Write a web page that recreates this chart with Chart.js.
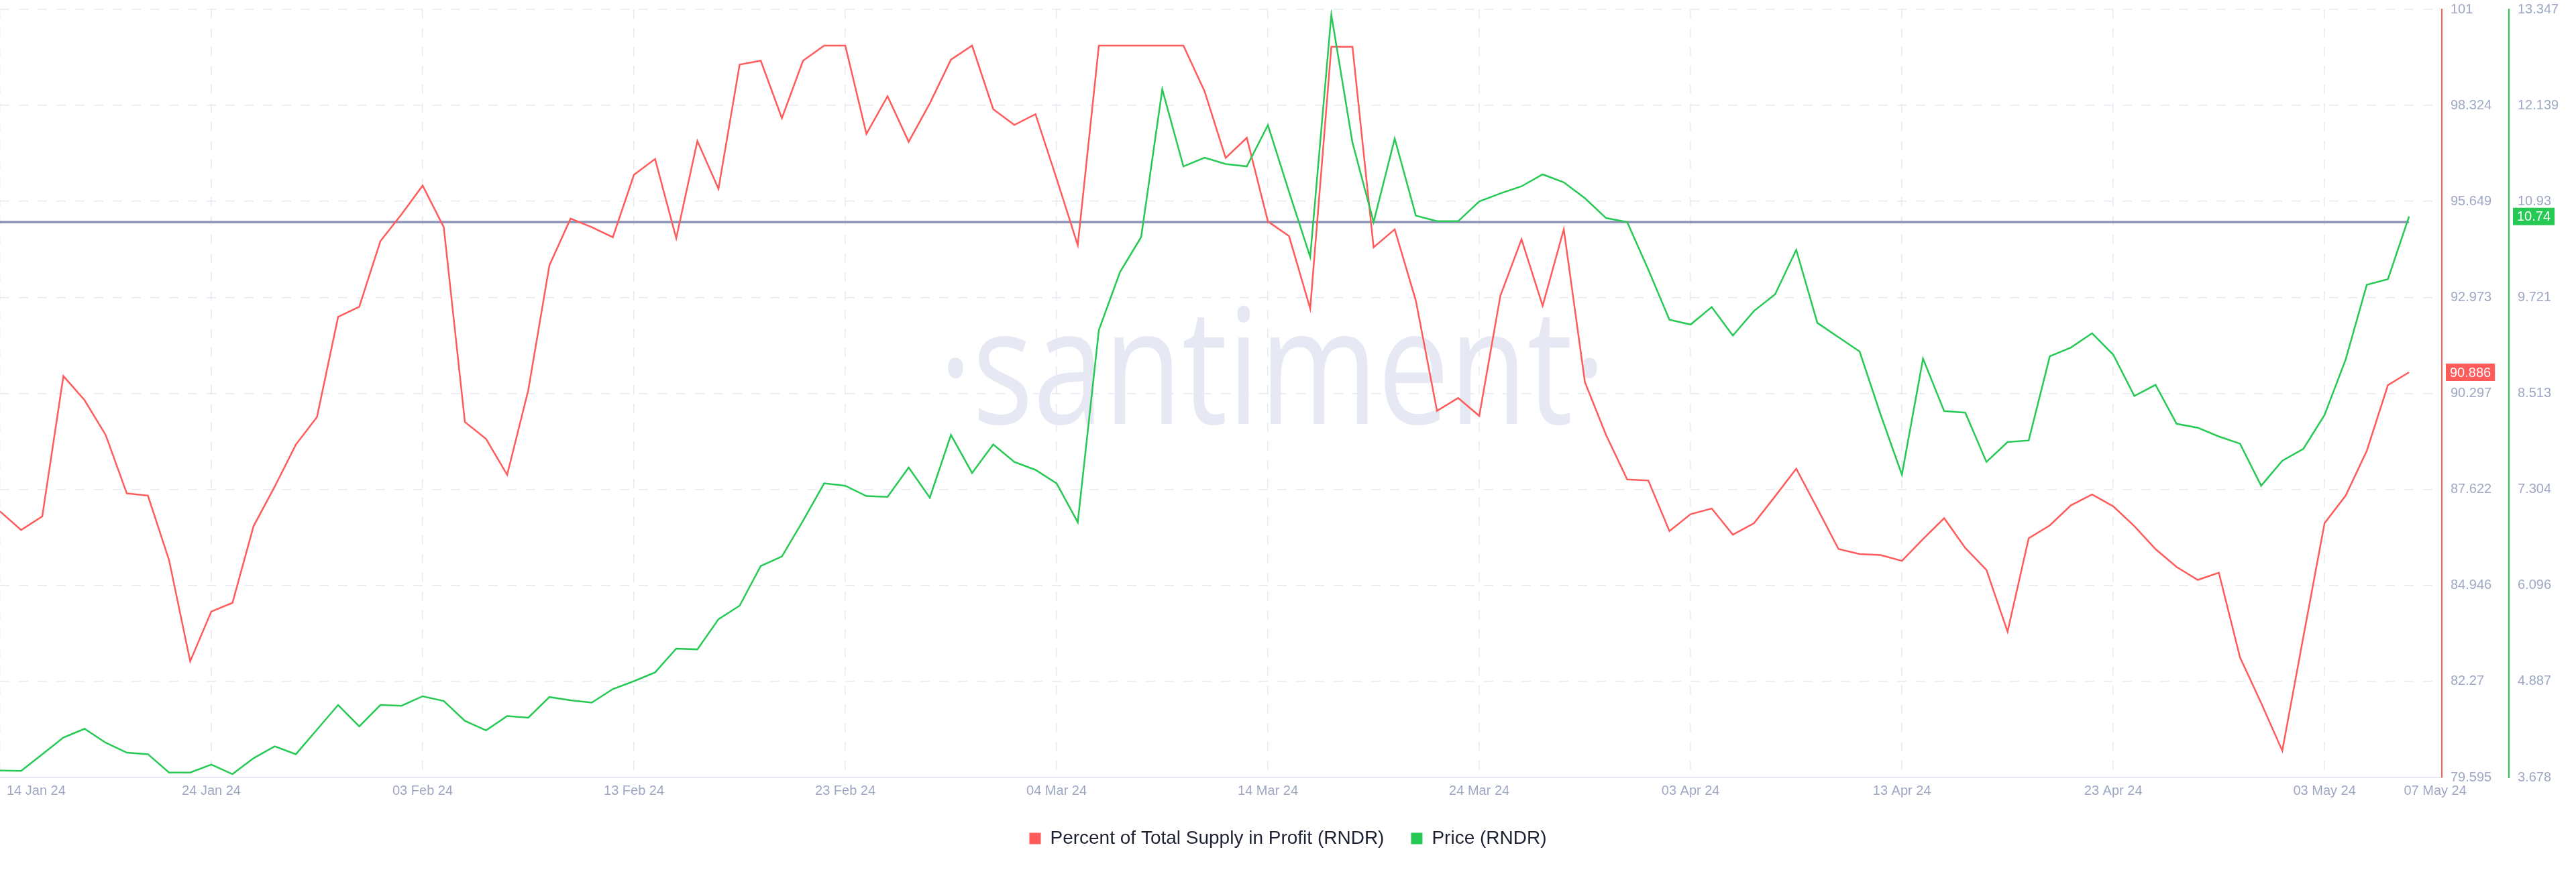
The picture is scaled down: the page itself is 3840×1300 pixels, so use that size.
<!DOCTYPE html>
<html>
<head>
<meta charset="utf-8">
<script src="https://cdn.jsdelivr.net/npm/chart.js@4.4.1/dist/chart.umd.min.js"></script>
<style>
    html, body { margin: 0; padding: 0; background: #ffffff; }
    #wrap { width: 3840px; height: 1300px; position: relative; }
</style>
</head>
<body>
<div id="wrap"><canvas id="chart"></canvas></div>
<script>
// x axis: day index from 14 Jan 24
const gridDays = [0, 10, 20, 30, 40, 50, 60, 70, 80, 90, 100, 110];
const xTickDays = [0, 10, 20, 30, 40, 50, 60, 70, 80, 90, 100, 110, 114];
const xTickLabels = ['14 Jan 24', '24 Jan 24', '03 Feb 24', '13 Feb 24', '23 Feb 24', '04 Mar 24',
    '14 Mar 24', '24 Mar 24', '03 Apr 24', '13 Apr 24', '23 Apr 24', '03 May 24', '07 May 24'];

const redTickLabels = ['79.595', '82.27', '84.946', '87.622', '90.297', '92.973', '95.649', '98.324', '101'];
const greenTickLabels = ['3.678', '4.887', '6.096', '7.304', '8.513', '9.721', '10.93', '12.139', '13.347'];

const supplyInProfit = [
    87.01, 86.49, 86.87, 90.78, 90.11, 89.14, 87.51, 87.45, 85.65, 82.83,
    84.22, 84.46, 86.60, 87.70, 88.87, 89.64, 92.43, 92.71, 94.54, 95.29,
    96.09, 94.93, 89.50, 89.03, 88.03, 90.39, 93.87, 95.17, 94.93, 94.65,
    96.39, 96.83, 94.62, 97.33, 96.00, 99.46, 99.57, 97.97, 99.57, 99.99,
    99.99, 97.53, 98.58, 97.31, 98.38, 99.60, 99.99, 98.22, 97.78, 98.08,
    96.28, 94.43, 99.99, 99.99, 99.99, 99.99, 99.99, 98.72, 96.86, 97.42,
    95.09, 94.68, 92.66, 99.96, 99.96, 94.37, 94.87, 92.88, 89.81, 90.17,
    89.67, 93.02, 94.59, 92.74, 94.87, 90.61, 89.14, 87.90, 87.87, 86.46,
    86.93, 87.09, 86.36, 86.68, 87.43, 88.20, 87.09, 85.96, 85.82, 85.79,
    85.63, 86.24, 86.82, 85.99, 85.38, 83.66, 86.26, 86.62, 87.18, 87.48,
    87.15, 86.60, 85.96, 85.46, 85.10, 85.30, 82.94, 81.67, 80.34, 83.52,
    86.68, 87.45, 88.70, 90.53, 90.886
];

const price = [
    3.765, 3.76, 3.97, 4.18, 4.29, 4.115, 3.99, 3.97, 3.74, 3.74,
    3.84, 3.72, 3.92, 4.07, 3.97, 4.28, 4.59, 4.32, 4.59, 4.58,
    4.70, 4.64, 4.39, 4.27, 4.45, 4.43, 4.69, 4.65, 4.62, 4.79,
    4.89, 5.00, 5.30, 5.29, 5.67, 5.84, 6.34, 6.46, 6.91, 7.38,
    7.35, 7.22, 7.21, 7.58, 7.20, 7.99, 7.51, 7.87, 7.65, 7.55,
    7.38, 6.89, 9.31, 10.04, 10.48, 12.34, 11.37, 11.48, 11.40, 11.37,
    11.89, 11.05, 10.23, 13.28, 11.67, 10.67, 11.72, 10.75, 10.68, 10.68,
    10.93, 11.03, 11.12, 11.27, 11.17, 10.97, 10.72, 10.67, 10.07, 9.44,
    9.38, 9.60, 9.24, 9.55, 9.76, 10.32, 9.40, 9.22, 9.04, 8.24,
    7.49, 8.95, 8.29, 8.27, 7.65, 7.90, 7.92, 8.98, 9.09, 9.27,
    9.00, 8.48, 8.62, 8.13, 8.08, 7.97, 7.88, 7.35, 7.665, 7.816,
    8.24, 8.94, 9.88, 9.95, 10.74
];

const priceRef = 10.67;

const RED = '#ff5b5b';
const GREEN = '#26c953';
const GRID = '#e6e9f2';
const TICK = '#9ea8c5';
const FONT = '"Liberation Sans", Arial, sans-serif';

Chart.defaults.font.family = FONT;

// santiment watermark, drawn before the grid
const watermark = {
    id: 'watermark',
    beforeDraw(chart) {
        const ctx = chart.ctx;
        const txt = '\u00B7santiment\u00B7';
        ctx.save();
        ctx.font = '400 240px "Open Sans", sans-serif';
        const w = ctx.measureText(txt).width;
        ctx.translate(1897, 632);
        ctx.scale(995 / w, 1);
        ctx.textAlign = 'center';
        ctx.textBaseline = 'alphabetic';
        ctx.fillStyle = '#e6e9f3';
        ctx.fillText(txt, 0, 0);
        ctx.restore();
    }
};

// date labels under the x axis
const xLabels = {
    id: 'xLabels',
    afterDraw(chart) {
        const {ctx, chartArea} = chart;
        const x = chart.scales.x;
        ctx.save();
        ctx.font = '20px ' + FONT;
        ctx.fillStyle = TICK;
        ctx.textBaseline = 'middle';
        xTickDays.forEach((d, i) => {
            let px = x.getPixelForValue(d);
            ctx.textAlign = 'center';
            if (i === 0) {
                ctx.textAlign = 'left';
                px += 10;
            } else if (i === xTickDays.length - 1) {
                px += 39;
            }
            ctx.fillText(xTickLabels[i], px, chartArea.bottom + 20);
        });
        ctx.restore();
    }
};

// last value badges on the axes
const badges = {
    id: 'badges',
    afterDraw(chart) {
        const ctx = chart.ctx;
        const items = [
            { scale: chart.scales.y, value: supplyInProfit[supplyInProfit.length - 1], text: '90.886', color: RED },
            { scale: chart.scales.y1, value: price[price.length - 1], text: '10.74', color: GREEN }
        ];
        ctx.save();
        ctx.font = '20px ' + FONT;
        items.forEach(b => {
            const y = b.scale.getPixelForValue(b.value);
            const w = ctx.measureText(b.text).width + 12;
            const left = b.scale.left + 6;
            ctx.fillStyle = b.color;
            ctx.fillRect(left, y - 13, w, 26);
            ctx.fillStyle = '#ffffff';
            ctx.textAlign = 'center';
            ctx.textBaseline = 'middle';
            ctx.fillText(b.text, left + w / 2, y + 1);
        });
        ctx.restore();
    }
};

function fitRightAxis(scale) {
    scale.width = 100;
    scale.paddingTop = 0;
    scale.paddingBottom = 0;
}

new Chart(document.getElementById('chart'), {
    type: 'line',
    data: {
        datasets: [{
            label: 'Percent of Total Supply in Profit (RNDR)',
            data: supplyInProfit.map((v, i) => ({ x: i, y: v })),
            yAxisID: 'y',
            borderColor: RED,
            backgroundColor: RED,
            borderWidth: 2.5,
            pointRadius: 0,
            tension: 0,
            order: 1
        }, {
            label: 'Price (RNDR)',
            data: price.map((v, i) => ({ x: i, y: v })),
            yAxisID: 'y1',
            borderColor: GREEN,
            backgroundColor: GREEN,
            borderWidth: 2.5,
            pointRadius: 0,
            tension: 0,
            order: 0
        }, {
            label: 'ref',
            data: [{ x: 0, y: priceRef }, { x: price.length - 1, y: priceRef }],
            yAxisID: 'y1',
            borderColor: '#8b92b6',
            borderWidth: 3.5,
            pointRadius: 0,
            order: 2
        }]
    },
    options: {
        responsive: true,
        maintainAspectRatio: false,
        animation: false,
        events: [],
        layout: {
            padding: { top: 14, left: 0, right: 0, bottom: 26 }
        },
        scales: {
            x: {
                type: 'linear',
                min: 0,
                max: 115.55,
                afterBuildTicks: scale => {
                    scale.ticks = gridDays.map(v => ({ value: v }));
                },
                afterFit: scale => { scale.height = 37; },
                ticks: { display: false },
                grid: { color: GRID, lineWidth: 1.5, drawTicks: false },
                border: { color: GRID, width: 2, dash: [14, 14] }
            },
            y: {
                position: 'right',
                min: 79.595,
                max: 101,
                afterBuildTicks: scale => {
                    scale.ticks = redTickLabels.map(t => ({ value: parseFloat(t) }));
                },
                afterFit: fitRightAxis,
                ticks: {
                    color: TICK,
                    padding: 13,
                    font: { size: 20 },
                    callback: (value, index) => redTickLabels[index]
                },
                grid: { color: GRID, lineWidth: 1.5, drawTicks: false },
                border: { color: RED, width: 2, dash: [14, 14] }
            },
            y1: {
                position: 'right',
                min: 3.678,
                max: 13.347,
                afterBuildTicks: scale => {
                    scale.ticks = greenTickLabels.map(t => ({ value: parseFloat(t) }));
                },
                afterFit: fitRightAxis,
                ticks: {
                    color: TICK,
                    padding: 13,
                    font: { size: 20 },
                    callback: (value, index) => greenTickLabels[index]
                },
                grid: { display: false, drawTicks: false },
                border: { color: GREEN, width: 2 }
            }
        },
        plugins: {
            tooltip: { enabled: false },
            legend: {
                position: 'bottom',
                labels: {
                    boxWidth: 17,
                    boxHeight: 17,
                    padding: 40,
                    color: '#1d2132',
                    font: { size: 28 },
                    generateLabels: chart => chart.data.datasets.slice(0, 2).map((ds, i) => ({
                        text: ds.label,
                        fillStyle: ds.borderColor,
                        strokeStyle: ds.borderColor,
                        lineWidth: 0,
                        hidden: false,
                        datasetIndex: i,
                        fontColor: '#1d2132'
                    }))
                }
            }
        }
    },
    plugins: [watermark, xLabels, badges]
});
</script>
</body>
</html>
